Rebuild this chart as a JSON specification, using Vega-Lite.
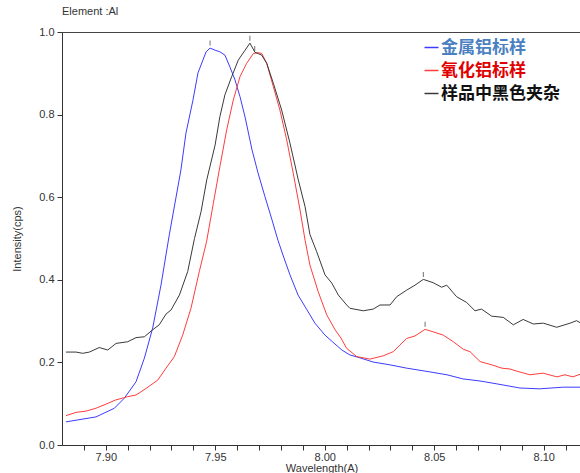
{
  "$schema": "https://vega.github.io/schema/vega-lite/v6.json",
  "autosize": {"type": "none"},
  "padding": {"left": 62, "top": 32, "right": 0, "bottom": 28},
  "width": 519,
  "height": 413,
  "title": {"text": "Element :Al", "anchor": "start", "frame": "group", "fontSize": 11, "font": "Liberation Sans", "fontWeight": "normal", "color": "#333333", "offset": 9},
  "config": {
    "view": {"stroke": "#444444"},
    "axis": {"domainColor": "#333333", "tickColor": "#333333", "labelColor": "#333333", "titleColor": "#333333", "labelFont": "Liberation Sans", "titleFont": "Liberation Sans", "labelFontSize": 11, "titleFontSize": 11, "titleFontWeight": "normal", "grid": false, "tickSize": 5, "labelOverlap": false}
  },
  "datasets": {
    "spectra": [
      {"sample":"金属铝标样","wl":7.8818,"int":0.056},{"sample":"金属铝标样","wl":7.8955,"int":0.068},{"sample":"金属铝标样","wl":7.9039,"int":0.089},{"sample":"金属铝标样","wl":7.9084,"int":0.113},{"sample":"金属铝标样","wl":7.9138,"int":0.153},{"sample":"金属铝标样","wl":7.9176,"int":0.210},{"sample":"金属铝标样","wl":7.9214,"int":0.283},{"sample":"金属铝标样","wl":7.9252,"int":0.387},{"sample":"金属铝标样","wl":7.929,"int":0.509},{"sample":"金属铝标样","wl":7.9343,"int":0.666},{"sample":"金属铝标样","wl":7.9366,"int":0.755},{"sample":"金属铝标样","wl":7.9398,"int":0.835},{"sample":"金属铝标样","wl":7.9421,"int":0.901},{"sample":"金属铝标样","wl":7.9458,"int":0.952},{"sample":"金属铝标样","wl":7.9476,"int":0.961},{"sample":"金属铝标样","wl":7.9499,"int":0.956},{"sample":"金属铝标样","wl":7.9521,"int":0.952},{"sample":"金属铝标样","wl":7.9544,"int":0.944},{"sample":"金属铝标样","wl":7.9567,"int":0.915},{"sample":"金属铝标样","wl":7.959,"int":0.884},{"sample":"金属铝标样","wl":7.9613,"int":0.843},{"sample":"金属铝标样","wl":7.9636,"int":0.794},{"sample":"金属铝标样","wl":7.9668,"int":0.714},{"sample":"金属铝标样","wl":7.9695,"int":0.659},{"sample":"金属铝标样","wl":7.9727,"int":0.601},{"sample":"金属铝标样","wl":7.9759,"int":0.545},{"sample":"金属铝标样","wl":7.9786,"int":0.496},{"sample":"金属铝标样","wl":7.9809,"int":0.460},{"sample":"金属铝标样","wl":7.9841,"int":0.412},{"sample":"金属铝标样","wl":7.9878,"int":0.363},{"sample":"金属铝标样","wl":7.9919,"int":0.327},{"sample":"金属铝标样","wl":7.9955,"int":0.295},{"sample":"金属铝标样","wl":8.0001,"int":0.266},{"sample":"金属铝标样","wl":8.0037,"int":0.249},{"sample":"金属铝标样","wl":8.0078,"int":0.230},{"sample":"金属铝标样","wl":8.0115,"int":0.218},{"sample":"金属铝标样","wl":8.0161,"int":0.211},{"sample":"金属铝标样","wl":8.022,"int":0.201},{"sample":"金属铝标样","wl":8.0298,"int":0.194},{"sample":"金属铝标样","wl":8.0375,"int":0.186},{"sample":"金属铝标样","wl":8.048,"int":0.177},{"sample":"金属铝标样","wl":8.0558,"int":0.170},{"sample":"金属铝标样","wl":8.0631,"int":0.160},{"sample":"金属铝标样","wl":8.0709,"int":0.155},{"sample":"金属铝标样","wl":8.0786,"int":0.148},{"sample":"金属铝标样","wl":8.0891,"int":0.138},{"sample":"金属铝标样","wl":8.0982,"int":0.136},{"sample":"金属铝标样","wl":8.1087,"int":0.140},{"sample":"金属铝标样","wl":8.117,"int":0.140},
      {"sample":"氧化铝标样","wl":7.8818,"int":0.071},{"sample":"氧化铝标样","wl":7.8864,"int":0.079},{"sample":"氧化铝标样","wl":7.891,"int":0.082},{"sample":"氧化铝标样","wl":7.8955,"int":0.089},{"sample":"氧化铝标样","wl":7.9001,"int":0.099},{"sample":"氧化铝标样","wl":7.9045,"int":0.109},{"sample":"氧化铝标样","wl":7.91,"int":0.117},{"sample":"氧化铝标样","wl":7.9138,"int":0.121},{"sample":"氧化铝标样","wl":7.9184,"int":0.137},{"sample":"氧化铝标样","wl":7.9237,"int":0.157},{"sample":"氧化铝标样","wl":7.9275,"int":0.186},{"sample":"氧化铝标样","wl":7.9313,"int":0.214},{"sample":"氧化铝标样","wl":7.9351,"int":0.266},{"sample":"氧化铝标样","wl":7.9389,"int":0.331},{"sample":"氧化铝标样","wl":7.9427,"int":0.420},{"sample":"氧化铝标样","wl":7.946,"int":0.492},{"sample":"氧化铝标样","wl":7.9491,"int":0.585},{"sample":"氧化铝标样","wl":7.9521,"int":0.674},{"sample":"氧化铝标样","wl":7.9552,"int":0.763},{"sample":"氧化铝标样","wl":7.9582,"int":0.835},{"sample":"氧化铝标样","wl":7.9613,"int":0.892},{"sample":"氧化铝标样","wl":7.9643,"int":0.924},{"sample":"氧化铝标样","wl":7.9674,"int":0.948},{"sample":"氧化铝标样","wl":7.9696,"int":0.950},{"sample":"氧化铝标样","wl":7.9712,"int":0.948},{"sample":"氧化铝标样","wl":7.9735,"int":0.924},{"sample":"氧化铝标样","wl":7.9765,"int":0.868},{"sample":"氧化铝标样","wl":7.9795,"int":0.811},{"sample":"氧化铝标样","wl":7.9826,"int":0.739},{"sample":"氧化铝标样","wl":7.9856,"int":0.658},{"sample":"氧化铝标样","wl":7.9887,"int":0.569},{"sample":"氧化铝标样","wl":7.991,"int":0.496},{"sample":"氧化铝标样","wl":7.9932,"int":0.436},{"sample":"氧化铝标样","wl":7.997,"int":0.371},{"sample":"氧化铝标样","wl":8.0009,"int":0.315},{"sample":"氧化铝标样","wl":8.0047,"int":0.279},{"sample":"氧化铝标样","wl":8.0074,"int":0.259},{"sample":"氧化铝标样","wl":8.01,"int":0.234},{"sample":"氧化铝标样","wl":8.0146,"int":0.214},{"sample":"氧化铝标样","wl":8.0206,"int":0.208},{"sample":"氧化铝标样","wl":8.0267,"int":0.216},{"sample":"氧化铝标样","wl":8.0313,"int":0.226},{"sample":"氧化铝标样","wl":8.0343,"int":0.242},{"sample":"氧化铝标样","wl":8.0374,"int":0.258},{"sample":"氧化铝标样","wl":8.0412,"int":0.264},{"sample":"氧化铝标样","wl":8.0458,"int":0.280},{"sample":"氧化铝标样","wl":8.0495,"int":0.274},{"sample":"氧化铝标样","wl":8.0541,"int":0.266},{"sample":"氧化铝标样","wl":8.0587,"int":0.250},{"sample":"氧化铝标样","wl":8.0632,"int":0.232},{"sample":"氧化铝标样","wl":8.0663,"int":0.226},{"sample":"氧化铝标样","wl":8.0709,"int":0.202},{"sample":"氧化铝标样","wl":8.0763,"int":0.194},{"sample":"氧化铝标样","wl":8.0809,"int":0.186},{"sample":"氧化铝标样","wl":8.0846,"int":0.184},{"sample":"氧化铝标样","wl":8.0882,"int":0.178},{"sample":"氧化铝标样","wl":8.0937,"int":0.170},{"sample":"氧化铝标样","wl":8.0996,"int":0.174},{"sample":"氧化铝标样","wl":8.106,"int":0.165},{"sample":"氧化铝标样","wl":8.1097,"int":0.170},{"sample":"氧化铝标样","wl":8.1133,"int":0.165},{"sample":"氧化铝标样","wl":8.117,"int":0.172},
      {"sample":"样品中黑色夹杂","wl":7.8818,"int":0.225},{"sample":"样品中黑色夹杂","wl":7.8864,"int":0.225},{"sample":"样品中黑色夹杂","wl":7.8895,"int":0.222},{"sample":"样品中黑色夹杂","wl":7.8925,"int":0.225},{"sample":"样品中黑色夹杂","wl":7.897,"int":0.236},{"sample":"样品中黑色夹杂","wl":7.9009,"int":0.230},{"sample":"样品中黑色夹杂","wl":7.9047,"int":0.246},{"sample":"样品中黑色夹杂","wl":7.91,"int":0.250},{"sample":"样品中黑色夹杂","wl":7.9138,"int":0.260},{"sample":"样品中黑色夹杂","wl":7.9176,"int":0.262},{"sample":"样品中黑色夹杂","wl":7.9214,"int":0.279},{"sample":"样品中黑色夹杂","wl":7.9244,"int":0.291},{"sample":"样品中黑色夹杂","wl":7.9275,"int":0.317},{"sample":"样品中黑色夹杂","wl":7.9298,"int":0.327},{"sample":"样品中黑色夹杂","wl":7.9336,"int":0.363},{"sample":"样品中黑色夹杂","wl":7.9374,"int":0.420},{"sample":"样品中黑色夹杂","wl":7.9405,"int":0.500},{"sample":"样品中黑色夹杂","wl":7.9435,"int":0.565},{"sample":"样品中黑色夹杂","wl":7.9461,"int":0.642},{"sample":"样品中黑色夹杂","wl":7.9499,"int":0.726},{"sample":"样品中黑色夹杂","wl":7.9521,"int":0.795},{"sample":"样品中黑色夹杂","wl":7.9544,"int":0.848},{"sample":"样品中黑色夹杂","wl":7.9575,"int":0.892},{"sample":"样品中黑色夹杂","wl":7.9605,"int":0.932},{"sample":"样品中黑色夹杂","wl":7.9636,"int":0.956},{"sample":"样品中黑色夹杂","wl":7.9658,"int":0.973},{"sample":"样品中黑色夹杂","wl":7.9681,"int":0.951},{"sample":"样品中黑色夹杂","wl":7.9712,"int":0.944},{"sample":"样品中黑色夹杂","wl":7.9735,"int":0.924},{"sample":"样品中黑色夹杂","wl":7.9765,"int":0.876},{"sample":"样品中黑色夹杂","wl":7.9803,"int":0.811},{"sample":"样品中黑色夹杂","wl":7.9841,"int":0.731},{"sample":"样品中黑色夹杂","wl":7.9879,"int":0.642},{"sample":"样品中黑色夹杂","wl":7.991,"int":0.577},{"sample":"样品中黑色夹杂","wl":7.9932,"int":0.510},{"sample":"样品中黑色夹杂","wl":7.9963,"int":0.468},{"sample":"样品中黑色夹杂","wl":8.0001,"int":0.412},{"sample":"样品中黑色夹杂","wl":8.0032,"int":0.392},{"sample":"样品中黑色夹杂","wl":8.0062,"int":0.363},{"sample":"样品中黑色夹杂","wl":8.01,"int":0.339},{"sample":"样品中黑色夹杂","wl":8.0115,"int":0.331},{"sample":"样品中黑色夹杂","wl":8.0176,"int":0.325},{"sample":"样品中黑色夹杂","wl":8.0221,"int":0.329},{"sample":"样品中黑色夹杂","wl":8.0252,"int":0.339},{"sample":"样品中黑色夹杂","wl":8.0298,"int":0.339},{"sample":"样品中黑色夹杂","wl":8.0328,"int":0.359},{"sample":"样品中黑色夹杂","wl":8.0374,"int":0.375},{"sample":"样品中黑色夹杂","wl":8.0412,"int":0.387},{"sample":"样品中黑色夹杂","wl":8.045,"int":0.401},{"sample":"样品中黑色夹杂","wl":8.0495,"int":0.393},{"sample":"样品中黑色夹杂","wl":8.0534,"int":0.382},{"sample":"样品中黑色夹杂","wl":8.0557,"int":0.387},{"sample":"样品中黑色夹杂","wl":8.0602,"int":0.359},{"sample":"样品中黑色夹杂","wl":8.0648,"int":0.345},{"sample":"样品中黑色夹杂","wl":8.0686,"int":0.325},{"sample":"样品中黑色夹杂","wl":8.0716,"int":0.329},{"sample":"样品中黑色夹杂","wl":8.0762,"int":0.312},{"sample":"样品中黑色夹杂","wl":8.0815,"int":0.309},{"sample":"样品中黑色夹杂","wl":8.0861,"int":0.291},{"sample":"样品中黑色夹杂","wl":8.0906,"int":0.304},{"sample":"样品中黑色夹杂","wl":8.0952,"int":0.293},{"sample":"样品中黑色夹杂","wl":8.0998,"int":0.295},{"sample":"样品中黑色夹杂","wl":8.1059,"int":0.285},{"sample":"样品中黑色夹杂","wl":8.112,"int":0.295},{"sample":"样品中黑色夹杂","wl":8.115,"int":0.301},{"sample":"样品中黑色夹杂","wl":8.117,"int":0.295}
    ],
    "peaks": [
      {"wl":7.9476,"int":0.961},{"wl":7.9658,"int":0.973},{"wl":7.968,"int":0.948},{"wl":8.045,"int":0.401},{"wl":8.0458,"int":0.280}
    ]
  },
  "encoding": {
    "x": {"field": "wl", "type": "quantitative", "scale": {"domain": [7.88, 8.117], "nice": false, "zero": false},
          "axis": {"title": "Wavelength(A)", "values": [7.89,7.9,7.91,7.92,7.93,7.94,7.95,7.96,7.97,7.98,7.99,8,8.01,8.02,8.03,8.04,8.05,8.06,8.07,8.08,8.09,8.1,8.11],
                   "format": ".2f",
                   "labelExpr": "indexof(['7.90','7.95','8.00','8.05','8.10'], datum.label) >= 0 ? datum.label : ''",
                   "labelOverlap": false, "labelFlush": false, "labelBound": false, "labelPadding": 1, "titlePadding": 0}},
    "y": {"field": "int", "type": "quantitative", "scale": {"domain": [0, 1], "nice": false},
          "axis": {"title": "Intensity(cps)", "values": [0, 0.2, 0.4, 0.6, 0.8, 1.0], "format": ".1f", "labelPadding": 3, "titlePadding": 16}}
  },
  "layer": [
    {
      "data": {"name": "spectra"},
      "mark": {"type": "line", "strokeWidth": 1, "clip": true},
      "encoding": {
        "color": {"field": "sample", "type": "nominal",
                  "scale": {"domain": ["金属铝标样", "氧化铝标样", "样品中黑色夹杂"], "range": ["#3c3cff", "#ff3c3c", "#3a3a3a"]},
                  "legend": {"orient": "none", "legendX": 361, "legendY": 7, "title": null, "symbolType": "stroke", "symbolSize": 196, "symbolStrokeWidth": 1.5,
                             "labelFont": "Noto Sans CJK SC", "labelFontSize": 17, "labelFontWeight": "bold", "rowPadding": 5, "labelOffset": 1, "padding": 0, "labelLimit": 300,
                             "encode": {"labels": {"update": {"fill": {"signal": "datum.value === '金属铝标样' ? '#4a7fc1' : datum.value === '氧化铝标样' ? '#e00000' : '#111111'"}}}}}}
      }
    },
    {
      "data": {"name": "peaks"},
      "mark": {"type": "tick", "orient": "vertical", "size": 5, "thickness": 1, "color": "#333333", "yOffset": -5}
    }
  ]
}
